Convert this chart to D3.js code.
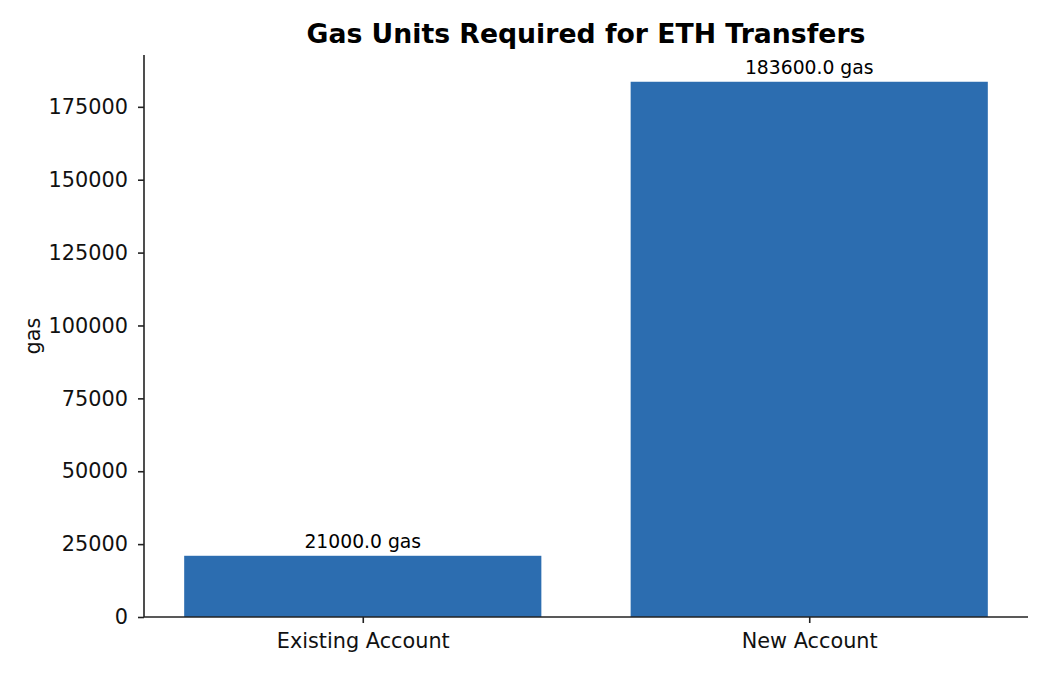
<!DOCTYPE html>
<html>
<head>
<meta charset="utf-8">
<script src="https://cdn.jsdelivr.net/npm/d3@7"></script>
<style>
  body { margin: 0; background: #fff; }
  text { font-family: "DejaVu Sans", sans-serif; }
</style>
</head>
<body>
<svg id="chart" width="1050" height="675"></svg>
<script>
// data
var categories = ["Existing Account", "New Account"];
var gasValues = [21000, 183600];
var yTicks = [0, 25000, 50000, 75000, 100000, 125000, 150000, 175000];

var svg = d3.select("#chart"),
	margin = {top: 55, right: 22, bottom: 58, left: 144},
	width = +svg.attr("width") - margin.left - margin.right,
	height = +svg.attr("height") - margin.top - margin.bottom;

var g = svg.append("g").attr("transform", "translate(" + margin.left + "," + margin.top + ")");

// matplotlib-like limits: bars of width 0.8 at 0,1 with 5% margins
var x = d3.scaleLinear().domain([-0.49, 1.49]).range([0, width]);
var yMax = d3.max(gasValues) * 1.05;
var y = d3.scaleLinear().domain([0, yMax]).range([height, 0]);
var barW = x(0.8) - x(0);

g.selectAll(".bar")
	.data(gasValues)
	.enter().append("rect")
	.attr("class", "bar")
	.attr("x", function(d, i) { return x(i - 0.4); })
	.attr("y", function(d) { return y(d); })
	.attr("width", barW)
	.attr("height", function(d) { return height - y(d); })
	.attr("fill", "#2c6db0");

g.selectAll(".barLabel")
	.data(gasValues)
	.enter().append("text")
	.attr("class", "barLabel")
	.attr("x", function(d, i) { return x(i); })
	.attr("y", function(d) { return y(d) - 8; })
	.attr("text-anchor", "middle")
	.style("font-size", "18.75px")
	.text(function(d) { return d.toFixed(1) + " gas"; });

var xAxis = g.append("g")
	.attr("transform", "translate(0," + height + ")")
	.call(d3.axisBottom(x).tickValues([0, 1]).tickFormat(function(d) { return categories[d]; }).tickSize(6).tickPadding(10));

var yAxis = g.append("g")
	.call(d3.axisLeft(y).tickValues(yTicks).tickFormat(d3.format("d")).tickSize(6).tickPadding(10));

[xAxis, yAxis].forEach(function(a) {
	a.select(".domain").attr("stroke", "#222").attr("stroke-width", 1.6);
	a.selectAll(".tick line").attr("stroke", "#222").attr("stroke-width", 1.6);
	a.selectAll(".tick text").attr("fill", "#111").style("font-size", "20.8px");
});
// remove domain end caps so spines look like matplotlib
xAxis.select(".domain").attr("d", "M0,0H" + width);
yAxis.select(".domain").attr("d", "M0," + height + "V0");

g.append("text")
	.attr("transform", "rotate(-90)")
	.attr("x", -height / 2)
	.attr("y", -104)
	.attr("text-anchor", "middle")
	.style("font-size", "20.8px")
	.attr("fill", "#111")
	.text("gas");

svg.append("text")
	.attr("x", margin.left + width / 2)
	.attr("y", 43)
	.attr("text-anchor", "middle")
	.style("font-size", "26.7px")
	.style("font-weight", "bold")
	.text("Gas Units Required for ETH Transfers");
</script>
</body>
</html>
